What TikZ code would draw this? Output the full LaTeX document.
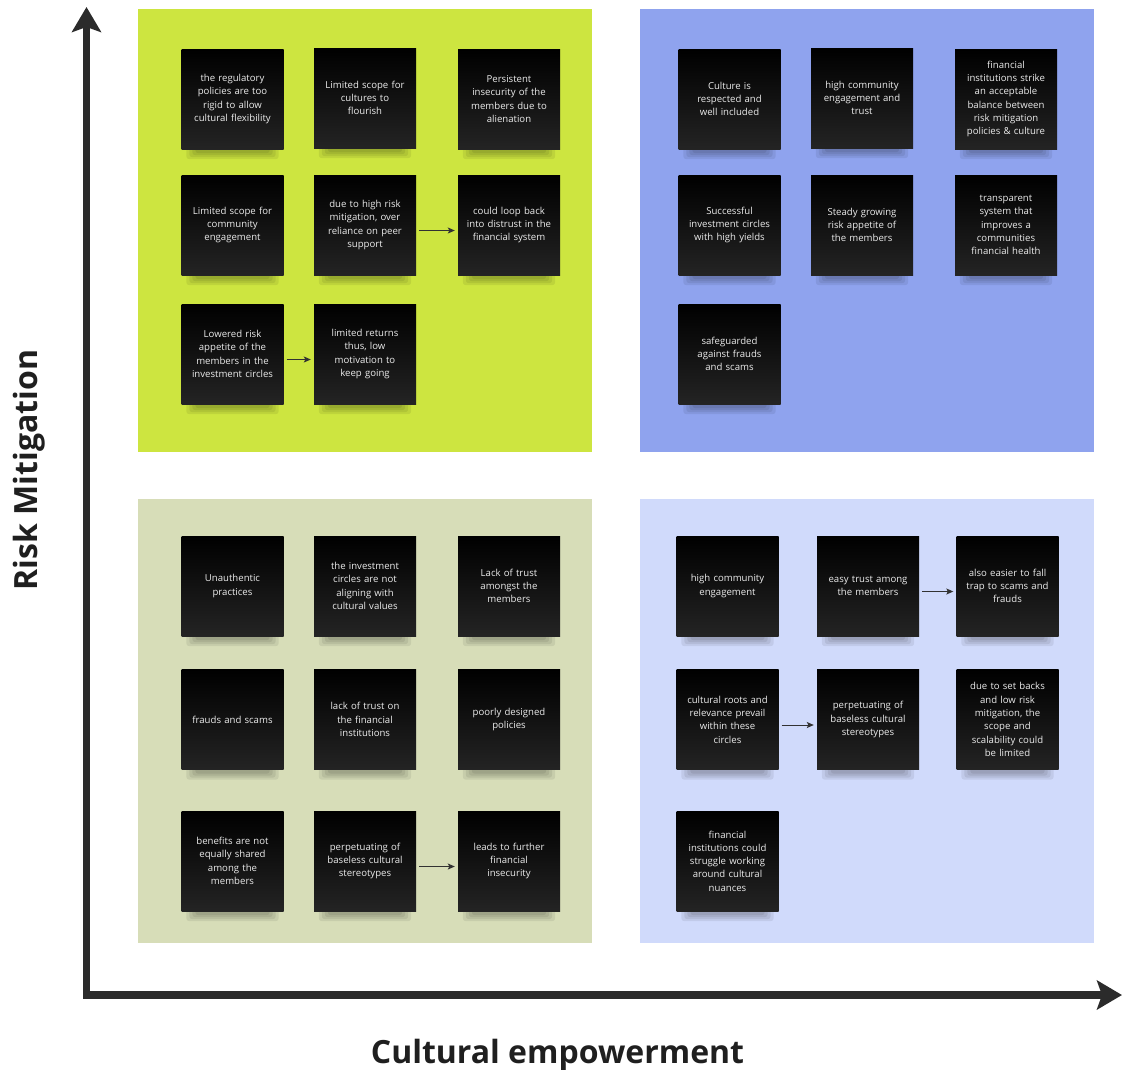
\documentclass[tikz,border=0pt]{standalone}
\usepackage{fontspec}
\setmainfont{Open Sans}
\usetikzlibrary{arrows.meta}

\definecolor{quadLime}{RGB}{205,229,64}
\definecolor{quadBlue}{RGB}{143,163,238}
\definecolor{quadSage}{RGB}{215,221,184}
\definecolor{quadSky}{RGB}{208,218,251}
\definecolor{axisInk}{RGB}{43,43,43}
\definecolor{noteInk}{RGB}{236,236,236}
\definecolor{linkInk}{RGB}{50,50,50}

\pgfdeclarelayer{quadrants}
\pgfdeclarelayer{shade}
\pgfsetlayers{quadrants,shade,main}

\tikzset{
  note/.style={
    minimum width=102pt, minimum height=100pt, inner sep=0pt,
    text width=90pt, align=center, text=noteInk,
    font=\fontsize{9.6}{13.3}\selectfont,
    top color=black, middle color=black, bottom color=black!86!white
  },
  link/.style={
    draw=linkInk, line width=1pt,
    -{Stealth[length=7pt,width=6pt,inset=1.5pt]},
    shorten <=3pt, shorten >=3pt
  },
  axisline/.style={
    draw=axisInk, line width=7.5pt, line join=miter,
    {Stealth[length=25pt,width=29pt,inset=5pt]}-{Stealth[length=25pt,width=29pt,inset=5pt]}
  },
  axislabel/.style={font=\fontsize{32}{36}\selectfont\bfseries, text=black!88!white, inner sep=0pt}
}

\begin{document}
\begin{tikzpicture}[x=1pt,y=-1pt]
\useasboundingbox (0,0) rectangle (1125,1069);

% quadrant panels
\begin{pgfonlayer}{quadrants}
  \fill[quadLime] (138,9) rectangle (592,452);
  \fill[quadBlue] (640,9) rectangle (1094,452);
  \fill[quadSage] (138,499) rectangle (592,943);
  \fill[quadSky]  (640,499) rectangle (1094,943);
\end{pgfonlayer}

% low risk mitigation / low cultural empowerment is bottom left
% top left panel
\node[note] (tl1) at (232.5,99) {the regulatory\\policies are too\\rigid to allow\\cultural flexibility};
\node[note] (tl2) at (365,98)   {Limited scope for\\cultures to\\flourish};
\node[note] (tl3) at (509,99)   {Persistent\\insecurity of the\\members due to\\alienation};
\node[note] (tl4) at (232.5,225) {Limited scope for\\community\\engagement};
\node[note] (tl5) at (365,225)   {due to high risk\\mitigation, over\\reliance on peer\\support};
\node[note] (tl6) at (509,225)   {could loop back\\into distrust in the\\financial system};
\node[note] (tl7) at (232.5,354) {Lowered risk\\appetite of the\\members in the\\investment circles};
\node[note] (tl8) at (365,354)   {limited returns\\thus, low\\motivation to\\keep going};

% top right panel
\node[note] (tr1) at (729.5,99) {Culture is\\respected and\\well included};
\node[note] (tr2) at (862,98)   {high community\\engagement and\\trust};
\node[note] (tr3) at (1006,99)  {financial\\institutions strike\\an acceptable\\balance between\\risk mitigation\\policies \& culture};
\node[note] (tr4) at (729.5,225) {Successful\\investment circles\\with high yields};
\node[note] (tr5) at (862,225)   {Steady growing\\risk appetite of\\the members};
\node[note] (tr6) at (1006,225)  {transparent\\system that\\improves a\\communities\\financial health};
\node[note] (tr7) at (729.5,354) {safeguarded\\against frauds\\and scams};

% bottom left panel
\node[note] (bl1) at (232.5,586) {Unauthentic\\practices};
\node[note] (bl2) at (365,586)   {the investment\\circles are not\\aligning with\\cultural values};
\node[note] (bl3) at (509,586)   {Lack of trust\\amongst the\\members};
\node[note] (bl4) at (232.5,719.5) {frauds and scams};
\node[note] (bl5) at (365,719.5)   {lack of trust on\\the financial\\institutions};
\node[note] (bl6) at (509,719.5)   {poorly designed\\policies};
\node[note] (bl7) at (232.5,861) {benefits are not\\equally shared\\among the\\members};
\node[note] (bl8) at (365,861)   {perpetuating of\\baseless cultural\\stereotypes};
\node[note] (bl9) at (509,861)   {leads to further\\financial\\insecurity};

% bottom right panel
\node[note] (br1) at (727.5,586) {high community\\engagement};
\node[note] (br2) at (868,586)   {easy trust among\\the members};
\node[note] (br3) at (1007.5,586) {also easier to fall\\trap to scams and\\frauds};
\node[note] (br4) at (727.5,719.5) {cultural roots and\\relevance prevail\\within these\\circles};
\node[note] (br5) at (868,719.5)   {perpetuating of\\baseless cultural\\stereotypes};
\node[note] (br6) at (1007.5,719.5) {due to set backs\\and low risk\\mitigation, the\\scope and\\scalability could\\be limited};
\node[note] (br7) at (727.5,861) {financial\\institutions could\\struggle working\\around cultural\\nuances};

% soft shadows under the notes
\begin{pgfonlayer}{shade}
  \foreach \n in {tl1,tl2,tl3,tl4,tl5,tl6,tl7,tl8,tr1,tr2,tr3,tr4,tr5,tr6,tr7,
                  bl1,bl2,bl3,bl4,bl5,bl6,bl7,bl8,bl9,br1,br2,br3,br4,br5,br6,br7}
    \foreach \k in {0,1,2,3}
      \fill[black,opacity=0.07,rounded corners=3pt]
        ([xshift={5pt+3pt*\k},yshift={-(10pt-2pt*\k)}]\n.south west)
        rectangle ([xshift={-(5pt+3pt*\k)},yshift=3pt]\n.south east);
\end{pgfonlayer}

% consequence links
\draw[link] ([yshift=-5.5pt]tl5.east) -- ([yshift=-5.5pt]tl6.west);
\draw[link] ([yshift=-5.5pt]tl7.east) -- ([yshift=-5.5pt]tl8.west);
\draw[link] ([yshift=-5.5pt]bl8.east) -- ([yshift=-5.5pt]bl9.west);
\draw[link] ([yshift=-5.5pt]br2.east) -- ([yshift=-5.5pt]br3.west);
\draw[link] ([yshift=-5.5pt]br4.east) -- ([yshift=-5.5pt]br5.west);

% axes
\coordinate (ytip) at (86.5,7);
\coordinate (corner) at (86.5,995);
\coordinate (xtip) at (1122,995);
\draw[axisline] (ytip) -- (corner) -- (xtip);

\node[axislabel, rotate=90] (ylab) at (29,470) {Risk Mitigation};
\node[axislabel, anchor=base] (xlab) at (557.5,1063) {Cultural empowerment};
\end{tikzpicture}
\end{document}
